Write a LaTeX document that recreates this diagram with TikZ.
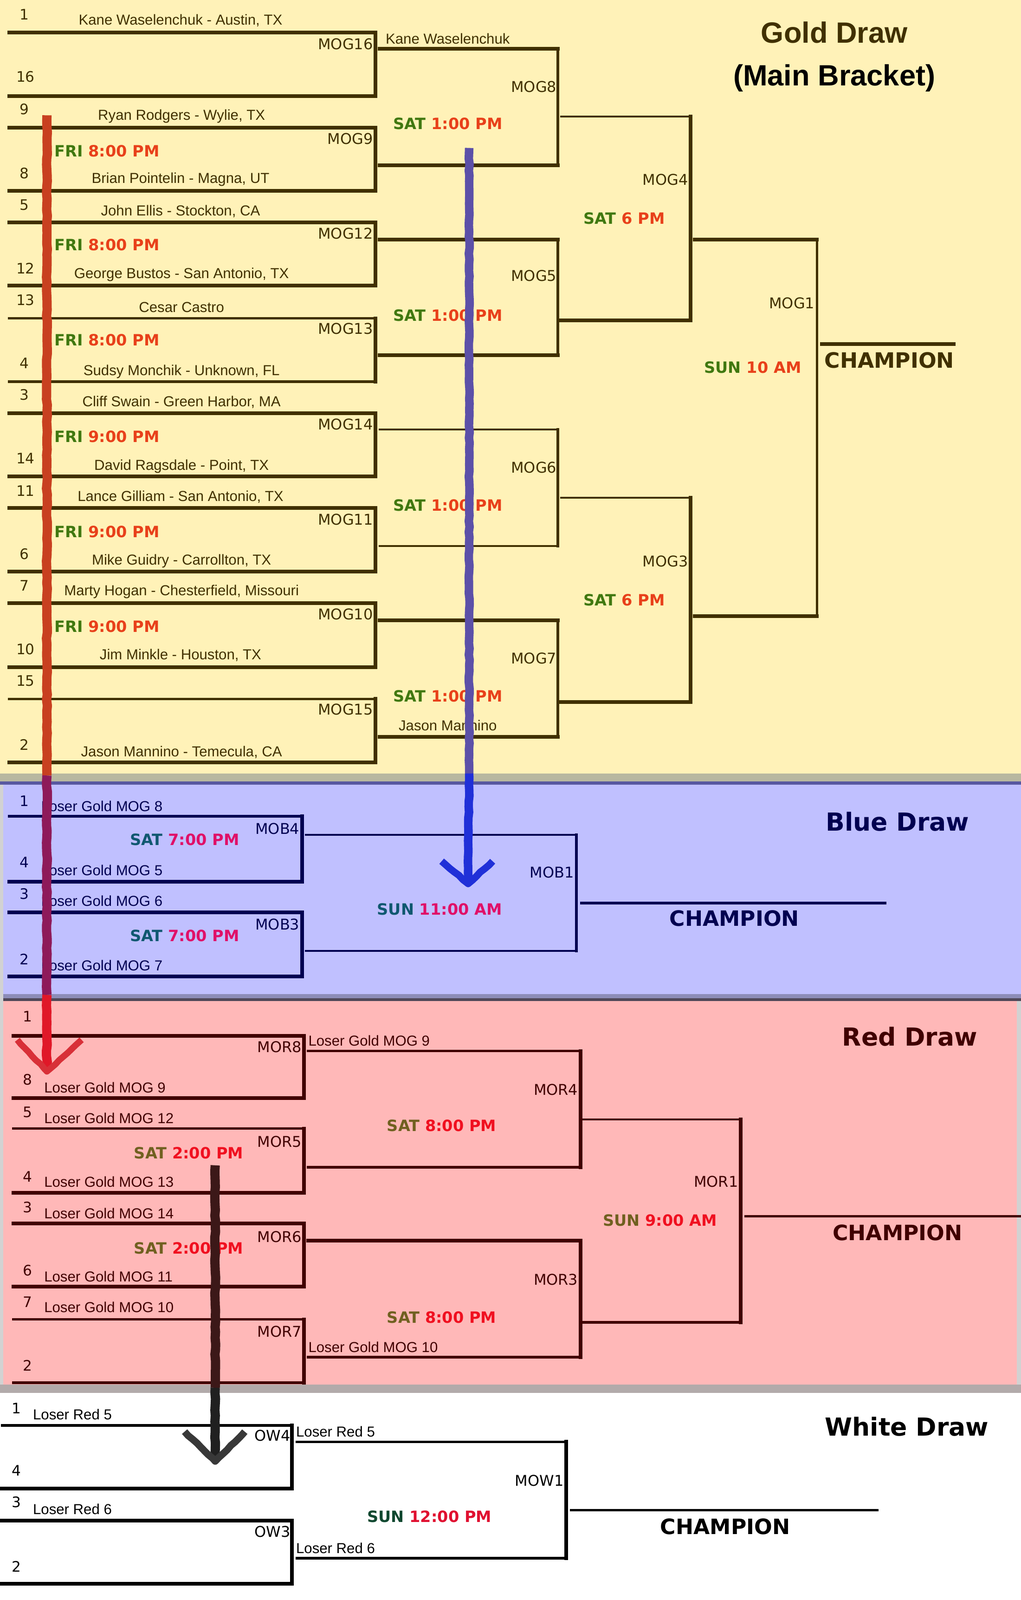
\documentclass[tikz,border=0pt]{standalone}
\usepackage{fontspec}
\setmainfont{Liberation Sans}
\newfontfamily\labelfont{DejaVu Sans}
\usetikzlibrary{arrows.meta,decorations.pathmorphing}

\definecolor{goldbg}{HTML}{FFF2B8}
\definecolor{bluebg}{HTML}{C0C0FF}
\definecolor{redbg}{HTML}{FFB8B8}
\definecolor{bandgold}{HTML}{B8B8A0}
\definecolor{bandnavy}{HTML}{5858A0}
\definecolor{bandblue}{HTML}{8C8CB8}
\definecolor{bandred}{HTML}{504858}
\definecolor{bandwhite}{HTML}{B2AAAA}
\definecolor{goldline}{HTML}{403000}
\definecolor{blueline}{HTML}{000050}
\definecolor{redline}{HTML}{400000}
\definecolor{goldday}{HTML}{407810}
\definecolor{goldhour}{HTML}{E8401A}
\definecolor{blueday}{HTML}{105870}
\definecolor{bluehour}{HTML}{E01068}
\definecolor{redday}{HTML}{706020}
\definecolor{redhour}{HTML}{F01020}
\definecolor{whiteday}{HTML}{104830}
\definecolor{whitehour}{HTML}{E01030}
\definecolor{redpenA}{HTML}{C84020}
\definecolor{redpenB}{HTML}{8E1A5A}
\definecolor{redpenC}{HTML}{E01828}
\definecolor{redpenD}{HTML}{D83038}
\definecolor{bluepenA}{HTML}{5C50A8}
\definecolor{bluepenB}{HTML}{2030D8}
\definecolor{darkpenA}{HTML}{3C1818}
\definecolor{darkpenB}{HTML}{202020}
\definecolor{darkpenC}{HTML}{383838}

\newcommand{\goldslot}[2]{\textcolor{goldday}{#1} \textcolor{goldhour}{#2}}
\newcommand{\blueslot}[2]{\textcolor{blueday}{#1} \textcolor{bluehour}{#2}}
\newcommand{\redslot}[2]{\textcolor{redday}{#1} \textcolor{redhour}{#2}}
\newcommand{\whiteslot}[2]{\textcolor{whiteday}{#1} \textcolor{whitehour}{#2}}

% colour, name, left, right, top, bottom, then the three line weights
\newcommand{\brk}[9]{
    \coordinate (#2a) at (#3,#5);
    \coordinate (#2b) at (#4,#5);
    \coordinate (#2c) at (#4,#6);
    \coordinate (#2d) at (#3,#6);
    \draw[#1,#7] (#2a) -- (#2b);
    \draw[#1,#8] (#2b) -- (#2c);
    \draw[#1,#9] (#2c) -- (#2d);
}

\begin{document}
\begin{tikzpicture}[x=0.55pt,y=-0.55pt,line cap=rect,
    hv/.style={line width=2pt},md/.style={line width=1.4pt},lt/.style={line width=1pt},
    penline/.style={line width=#1,line cap=butt,line join=round,decorate,
        decoration={random steps,segment length=3pt,amplitude=0.25pt}},
    namelbl/.style={font=\fontsize{7.8}{9}\selectfont,inner sep=0pt},
    seedlbl/.style={font=\labelfont\fontsize{7.8}{9}\selectfont,inner sep=0pt},
    gamelbl/.style={font=\labelfont\fontsize{8}{9}\selectfont,inner sep=0pt,anchor=east},
    timeslot/.style={font=\labelfont\bfseries\fontsize{8.4}{10}\selectfont,inner sep=0pt},
    champlbl/.style={font=\labelfont\bfseries\fontsize{11.4}{13}\selectfont,inner sep=0pt},
    drawlbl/.style={font=\labelfont\bfseries\fontsize{13.4}{15}\selectfont,inner sep=0pt},
    goldlbl/.style={font=\bfseries\fontsize{15.8}{18}\selectfont,inner sep=0pt}]

    \useasboundingbox (0,0) rectangle (1001,1568);

    % the four coloured bands
    \fill[goldbg] (0,0) rectangle (1001,759);
    \fill[bluebg] (0,767) rectangle (1001,975);
    \fill[redbg] (0,981) rectangle (1001,1358);
    \fill[white] (0,1364) rectangle (1001,1568);
    \fill[bandgold] (0,758) rectangle (1001,766);
    \fill[bandnavy] (0,766) rectangle (1001,769);
    \fill[bandblue] (0,974) rectangle (1001,979);
    \fill[bandred] (0,978.5) rectangle (1001,981);
    \fill[bandwhite] (0,1357) rectangle (1001,1365);
    \fill[gray!35] (0,769) rectangle (3,1357);
    \fill[gray!35] (997,981) rectangle (1001,1357);

    % gold draw
    \brk{goldline}{g16}{9}{368}{32}{94}{hv}{hv}{hv}
    \brk{goldline}{g9}{9}{368}{125}{187}{hv}{hv}{hv}
    \brk{goldline}{g12}{9}{368}{218}{280}{hv}{hv}{hv}
    \brk{goldline}{g13}{9}{368}{312}{374}{md}{hv}{md}
    \brk{goldline}{g14}{9}{368}{405}{467}{hv}{hv}{hv}
    \brk{goldline}{g11}{9}{368}{498}{560}{hv}{hv}{hv}
    \brk{goldline}{g10}{9}{368}{591}{654}{hv}{hv}{hv}
    \brk{goldline}{g15}{9}{368}{685}{747}{md}{hv}{hv}
    \brk{goldline}{g8}{372}{547}{48}{162}{hv}{md}{hv}
    \brk{goldline}{g5}{372}{547}{235}{348}{hv}{md}{hv}
    \brk{goldline}{g6}{372}{547}{421}{535}{lt}{md}{lt}
    \brk{goldline}{g7}{372}{547}{608}{722}{hv}{md}{hv}
    \brk{goldline}{g4}{550}{677}{114}{314}{lt}{hv}{hv}
    \brk{goldline}{g3}{550}{677}{488}{688}{lt}{hv}{hv}
    \brk{goldline}{g1}{681}{801}{235}{604}{hv}{md}{hv}
    \coordinate (gca) at (806,337);
    \coordinate (gcb) at (935,337);
    \draw[goldline,hv] (gca) -- (gcb);

    \begin{scope}[text=goldline]
        \node[goldlbl] (gtitle) at (818,32) {Gold Draw};
        \node[goldlbl,text=black] (gsub) at (818,76.5) {(Main Bracket)};
        \node[champlbl] (gchamp) at (872,353) {CHAMPION};

        \node[seedlbl] (gs1) at (24,14) {1};
        \node[seedlbl] (gs16) at (25,75) {16};
        \node[seedlbl] (gs9) at (24,107) {9};
        \node[seedlbl] (gs8) at (24,170) {8};
        \node[seedlbl] (gs5) at (24,201) {5};
        \node[seedlbl] (gs12) at (25,263) {12};
        \node[seedlbl] (gs13) at (25,294) {13};
        \node[seedlbl] (gs4) at (24,356) {4};
        \node[seedlbl] (gs3) at (24,387) {3};
        \node[seedlbl] (gs14) at (25,449) {14};
        \node[seedlbl] (gs11) at (25,481) {11};
        \node[seedlbl] (gs6) at (24,543) {6};
        \node[seedlbl] (gs7) at (24,574) {7};
        \node[seedlbl] (gs10) at (25,636) {10};
        \node[seedlbl] (gs15) at (25,667) {15};
        \node[seedlbl] (gs2) at (24,730) {2};

        \node[namelbl] (gn1) at (177,20) {Kane Waselenchuk - Austin, TX};
        \node[namelbl] (gn9) at (178,114) {Ryan Rodgers - Wylie, TX};
        \node[namelbl] (gn8) at (177,176) {Brian Pointelin - Magna, UT};
        \node[namelbl] (gn5) at (177,207) {John Ellis - Stockton, CA};
        \node[namelbl] (gn12) at (178,269) {George Bustos - San Antonio, TX};
        \node[namelbl] (gn13) at (178,301) {Cesar Castro};
        \node[namelbl] (gn4) at (178,364) {Sudsy Monchik - Unknown, FL};
        \node[namelbl] (gn3) at (178,394) {Cliff Swain - Green Harbor, MA};
        \node[namelbl] (gn14) at (178,457) {David Ragsdale - Point, TX};
        \node[namelbl] (gn11) at (177,487) {Lance Gilliam - San Antonio, TX};
        \node[namelbl] (gn6) at (178,550) {Mike Guidry - Carrollton, TX};
        \node[namelbl] (gn7) at (178,580) {Marty Hogan - Chesterfield, Missouri};
        \node[namelbl] (gn10) at (177,642) {Jim Minkle - Houston, TX};
        \node[namelbl] (gn2) at (178,737) {Jason Mannino - Temecula, CA};
        \node[namelbl] (gw8) at (439,38) {Kane Waselenchuk};
        \node[namelbl] (gw7) at (439,711) {Jason Mannino};

        \node[gamelbl] (mog16) at (366,43) {MOG16};
        \node[gamelbl] (mog9) at (366,136) {MOG9};
        \node[gamelbl] (mog12) at (366,229) {MOG12};
        \node[gamelbl] (mog13) at (366,322) {MOG13};
        \node[gamelbl] (mog14) at (366,416) {MOG14};
        \node[gamelbl] (mog11) at (366,509) {MOG11};
        \node[gamelbl] (mog10) at (366,602) {MOG10};
        \node[gamelbl] (mog15) at (366,695) {MOG15};
        \node[gamelbl] (mog8) at (546,85) {MOG8};
        \node[gamelbl] (mog5) at (546,270) {MOG5};
        \node[gamelbl] (mog6) at (546,458) {MOG6};
        \node[gamelbl] (mog7) at (546,645) {MOG7};
        \node[gamelbl] (mog4) at (675,176) {MOG4};
        \node[gamelbl] (mog3) at (675,550) {MOG3};
        \node[gamelbl] (mog1) at (799,297) {MOG1};
    \end{scope}

    \node[timeslot,anchor=west] (gt9) at (53,148) {\goldslot{FRI}{8:00 PM}};
    \node[timeslot,anchor=west] (gt12) at (53,240) {\goldslot{FRI}{8:00 PM}};
    \node[timeslot,anchor=west] (gt13) at (53,333) {\goldslot{FRI}{8:00 PM}};
    \node[timeslot,anchor=west] (gt14) at (53,428) {\goldslot{FRI}{9:00 PM}};
    \node[timeslot,anchor=west] (gt11) at (53,521) {\goldslot{FRI}{9:00 PM}};
    \node[timeslot,anchor=west] (gt10) at (53,614) {\goldslot{FRI}{9:00 PM}};
    \node[timeslot] (gt8) at (439,121) {\goldslot{SAT}{1:00 PM}};
    \node[timeslot] (gt5) at (439,309) {\goldslot{SAT}{1:00 PM}};
    \node[timeslot] (gt6) at (439,495) {\goldslot{SAT}{1:00 PM}};
    \node[timeslot] (gt7) at (439,682) {\goldslot{SAT}{1:00 PM}};
    \node[timeslot] (gt4) at (612,214) {\goldslot{SAT}{6 PM}};
    \node[timeslot] (gt3) at (612,588) {\goldslot{SAT}{6 PM}};
    \node[timeslot] (gt1) at (738,360) {\goldslot{SUN}{10 AM}};

    % blue draw
    \brk{blueline}{b4}{9}{296}{800}{864}{md}{hv}{hv}
    \brk{blueline}{b3}{9}{296}{894}{957}{hv}{hv}{hv}
    \brk{blueline}{b1}{300}{565}{818}{932}{lt}{md}{lt}
    \coordinate (bca) at (570,885);
    \coordinate (bcb) at (868,885);
    \draw[blueline,md] (bca) -- (bcb);

    \begin{scope}[text=blueline]
        \node[drawlbl] (btitle) at (880,805) {Blue Draw};
        \node[champlbl] (bchamp) at (720,900) {CHAMPION};
        \node[seedlbl] (bs1) at (24,785) {1};
        \node[seedlbl] (bs4) at (24,845) {4};
        \node[seedlbl] (bs3) at (24,876) {3};
        \node[seedlbl] (bs2) at (24,940) {2};
        \node[namelbl,anchor=west] (bn1) at (40,790) {Loser Gold MOG 8};
        \node[namelbl,anchor=west] (bn4) at (40,853) {Loser Gold MOG 5};
        \node[namelbl,anchor=west] (bn3) at (40,883) {Loser Gold MOG 6};
        \node[namelbl,anchor=west] (bn2) at (40,946) {Loser Gold MOG 7};
        \node[gamelbl] (mob4) at (294,812) {MOB4};
        \node[gamelbl] (mob3) at (294,906) {MOB3};
        \node[gamelbl] (mob1) at (563,855) {MOB1};
    \end{scope}

    \node[timeslot] (bt4) at (181,823) {\blueslot{SAT}{7:00 PM}};
    \node[timeslot] (bt3) at (181,917) {\blueslot{SAT}{7:00 PM}};
    \node[timeslot] (bt1) at (431,891) {\blueslot{SUN}{11:00 AM}};

    % red draw
    \brk{redline}{r8}{13}{298}{1015}{1076}{hv}{hv}{hv}
    \brk{redline}{r5}{13}{298}{1106}{1169}{md}{hv}{hv}
    \brk{redline}{r6}{13}{298}{1199}{1261}{hv}{hv}{hv}
    \brk{redline}{r7}{13}{298}{1293}{1355}{md}{hv}{md}
    \brk{redline}{r4}{302}{569}{1030}{1144}{md}{hv}{md}
    \brk{redline}{r3}{302}{569}{1216}{1330}{hv}{hv}{md}
    \brk{redline}{r1}{570}{726}{1097}{1296}{lt}{hv}{md}
    \coordinate (rca) at (731,1192);
    \coordinate (rcb) at (1001,1192);
    \draw[redline,md] (rca) -- (rcb);

    \begin{scope}[text=redline]
        \node[drawlbl] (rtitle) at (892,1016) {Red Draw};
        \node[champlbl] (rchamp) at (880,1208) {CHAMPION};
        \node[seedlbl] (rs1) at (27,996) {1};
        \node[seedlbl] (rs8) at (27,1058) {8};
        \node[seedlbl] (rs5) at (27,1090) {5};
        \node[seedlbl] (rs4) at (27,1153) {4};
        \node[seedlbl] (rs3) at (27,1183) {3};
        \node[seedlbl] (rs6) at (27,1245) {6};
        \node[seedlbl] (rs7) at (27,1276) {7};
        \node[seedlbl] (rs2) at (27,1338) {2};
        \node[namelbl,anchor=west] (rn8) at (43,1066) {Loser Gold MOG 9};
        \node[namelbl,anchor=west] (rn5) at (43,1096) {Loser Gold MOG 12};
        \node[namelbl,anchor=west] (rn4) at (43,1158) {Loser Gold MOG 13};
        \node[namelbl,anchor=west] (rn3) at (43,1189) {Loser Gold MOG 14};
        \node[namelbl,anchor=west] (rn6) at (43,1251) {Loser Gold MOG 11};
        \node[namelbl,anchor=west] (rn7) at (43,1281) {Loser Gold MOG 10};
        \node[namelbl,anchor=west] (rw8) at (302,1020) {Loser Gold MOG 9};
        \node[namelbl,anchor=west] (rw7) at (302,1320) {Loser Gold MOG 10};
        \node[gamelbl] (mor8) at (296,1026) {MOR8};
        \node[gamelbl] (mor5) at (296,1119) {MOR5};
        \node[gamelbl] (mor6) at (296,1212) {MOR6};
        \node[gamelbl] (mor7) at (296,1305) {MOR7};
        \node[gamelbl] (mor4) at (567,1068) {MOR4};
        \node[gamelbl] (mor3) at (567,1254) {MOR3};
        \node[gamelbl] (mor1) at (724,1158) {MOR1};
    \end{scope}

    \node[timeslot] (rt5) at (185,1130) {\redslot{SAT}{2:00 PM}};
    \node[timeslot] (rt6) at (185,1223) {\redslot{SAT}{2:00 PM}};
    \node[timeslot] (rt4) at (433,1103) {\redslot{SAT}{8:00 PM}};
    \node[timeslot] (rt3) at (433,1291) {\redslot{SAT}{8:00 PM}};
    \node[timeslot] (rt1) at (647,1196) {\redslot{SUN}{9:00 AM}};

    % white draw
    \brk{black}{w4}{2}{286}{1397}{1459}{md}{hv}{hv}
    \brk{black}{w3}{2}{286}{1490}{1552}{hv}{hv}{hv}
    \brk{black}{w1}{291}{555}{1413}{1527}{md}{hv}{md}
    \coordinate (wca) at (560,1480);
    \coordinate (wcb) at (860,1480);
    \draw[black,md] (wca) -- (wcb);

    \begin{scope}[text=black]
        \node[drawlbl] (wtitle) at (889,1398) {White Draw};
        \node[champlbl] (wchamp) at (711,1496) {CHAMPION};
        \node[seedlbl] (ws1) at (16,1380) {1};
        \node[seedlbl] (ws4) at (16,1441) {4};
        \node[seedlbl] (ws3) at (16,1472) {3};
        \node[seedlbl] (ws2) at (16,1535) {2};
        \node[namelbl,anchor=west] (wn4) at (32,1386) {Loser Red 5};
        \node[namelbl,anchor=west] (wn3) at (32,1479) {Loser Red 6};
        \node[namelbl,anchor=west] (wn1) at (290,1403) {Loser Red 5};
        \node[namelbl,anchor=west] (wn2) at (290,1517) {Loser Red 6};
        \node[gamelbl] (ow4) at (285,1407) {OW4};
        \node[gamelbl] (ow3) at (285,1501) {OW3};
        \node[gamelbl] (mow1) at (553,1451) {MOW1};
    \end{scope}

    \node[timeslot] (wt1) at (421,1486) {\whiteslot{SUN}{12:00 PM}};

    % the three hand drawn arrows
    \coordinate (ra) at (46,113);
    \coordinate (rb) at (46,760);
    \coordinate (rc) at (46,975);
    \coordinate (rtip) at (46,1050);
    \coordinate (rl) at (17,1019);
    \coordinate (rr) at (80,1019);
    \draw[penline=5pt,redpenA] (ra) -- (rb);
    \draw[penline=5pt,redpenB] (rb) -- (rc);
    \draw[penline=5pt,redpenC] (rc) -- (rtip);
    \draw[penline=3.4pt,redpenD] (rl) -- (rtip) -- (rr);

    \coordinate (ba) at (460,145);
    \coordinate (bb) at (460,758);
    \coordinate (btip) at (459,866);
    \coordinate (bl) at (433,844);
    \coordinate (br) at (483,844);
    \draw[penline=4.6pt,bluepenA] (ba) -- (bb);
    \draw[penline=4.6pt,bluepenB] (bb) -- (btip);
    \draw[penline=3.8pt,bluepenB] (bl) -- (btip) -- (br);

    \coordinate (ka) at (211,1142);
    \coordinate (kb) at (211,1360);
    \coordinate (ktip) at (211,1432);
    \coordinate (kl) at (181,1403);
    \coordinate (kr) at (240,1403);
    \draw[penline=5pt,darkpenA] (ka) -- (kb);
    \draw[penline=5pt,darkpenB] (kb) -- (ktip);
    \draw[penline=3.8pt,darkpenC] (kl) -- (ktip) -- (kr);
\end{tikzpicture}
\end{document}
